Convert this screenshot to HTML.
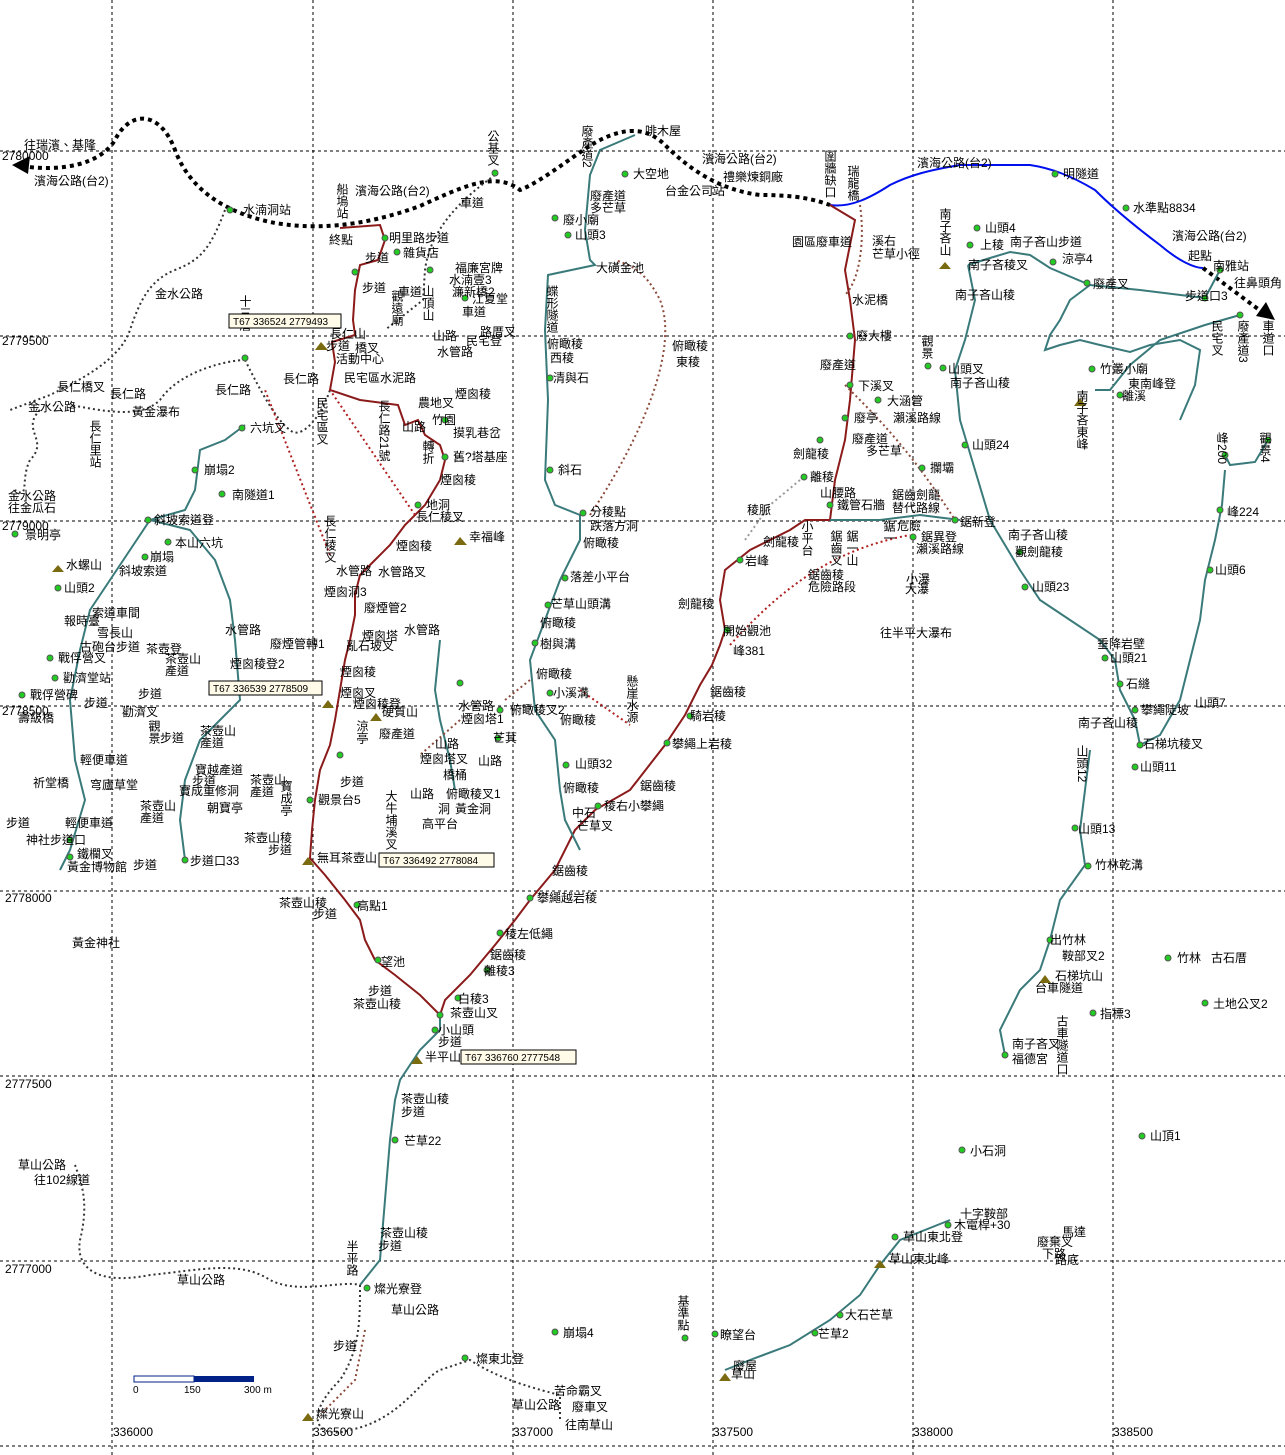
<!DOCTYPE html>
<html><head><meta charset="utf-8"><style>
html,body{margin:0;padding:0;background:#fff}
svg{display:block}
text{font-family:"Liberation Sans","Noto Sans CJK TC",sans-serif;font-size:12px;fill:#000}
.b{fill:#2233ee;font-size:11px}
.g{fill:#000;font-size:10px}
.v{writing-mode:vertical-rl}
</style></head><body>
<svg width="1285" height="1455" viewBox="0 0 1285 1455" xmlns="http://www.w3.org/2000/svg">
<g stroke="#000" stroke-width="1" stroke-dasharray="3,3" fill="none">
<line x1="112" y1="0" x2="112" y2="1455"/><line x1="313" y1="0" x2="313" y2="1455"/>
<line x1="513" y1="0" x2="513" y2="1455"/><line x1="713" y1="0" x2="713" y2="1455"/>
<line x1="913" y1="0" x2="913" y2="1455"/><line x1="1113" y1="0" x2="1113" y2="1455"/>
<line x1="0" y1="151" x2="1285" y2="151"/><line x1="0" y1="336" x2="1285" y2="336"/>
<line x1="0" y1="521" x2="1285" y2="521"/><line x1="0" y1="706" x2="1285" y2="706"/>
<line x1="0" y1="891" x2="1285" y2="891"/><line x1="0" y1="1076" x2="1285" y2="1076"/>
<line x1="0" y1="1261" x2="1285" y2="1261"/><line x1="0" y1="1446" x2="1285" y2="1446"/>
</g>
<g class="g">
<text x="2" y="160">2780000</text><text x="2" y="345">2779500</text><text x="2" y="530">2779000</text>
<text x="2" y="715">2778500</text><text x="5" y="902">2778000</text><text x="5" y="1088">2777500</text>
<text x="5" y="1273">2777000</text>
<text x="113" y="1436">336000</text><text x="313" y="1436">336500</text><text x="513" y="1436">337000</text>
<text x="713" y="1436">337500</text><text x="913" y="1436">338000</text><text x="1113" y="1436">338500</text>
</g>
<path d="M22,166 C60,172 100,165 115,140 C130,110 160,110 175,150 C190,190 225,212 270,222 C310,230 360,228 420,206 C460,188 495,170 520,190 C545,180 580,150 600,140 C630,125 650,130 665,145 C690,170 720,190 760,195 C800,195 815,200 830,205" fill="none" stroke="#000" stroke-width="4" stroke-dasharray="4,4"/>
<path d="M1203,268 L1262,312" fill="none" stroke="#000" stroke-width="4" stroke-dasharray="4,4"/>
<polygon points="12,165 30,156 28,174" fill="#000"/><polygon points="1275,320 1256,316 1266,302" fill="#000"/>
<path d="M830,205 C850,208 870,198 890,185 C910,175 930,170 960,165 L1030,165 C1050,168 1070,175 1095,190 C1115,210 1140,230 1160,245 C1180,262 1195,268 1203,268" fill="none" stroke="#0011ee" stroke-width="2"/>
<path d="M340,228 L380,225 L385,240 L378,260 L360,265 L355,290 L353,320 L355,335 L332,342 L335,362 L330,390 L360,400 L398,405 L405,425 L418,420 L425,435 L440,445 L445,460 L440,480 L425,505 L405,525 L390,545 L375,560 L360,575 L355,595 L355,615 L350,640 L345,660 L340,690 L335,720 L330,745 L320,770 L315,800 L312,830 L310,858 L325,875 L345,900 L360,920 L365,940 L375,960 L395,975 L420,995 L440,1015 L445,1000 L470,975 L495,945 L515,920 L530,900 L555,870 L575,830 L595,810 L630,790 L665,745 L685,715 L700,685 L712,665 L720,645 L725,630 L720,600 L725,570 L750,550 L790,530 L805,520 L830,520 L835,480 L845,440 L850,400 L855,340 L850,300 L845,270 L855,220 L830,205" fill="none" stroke="#8b1a1a" stroke-width="2"/>
<g fill="none" stroke="#3a7a7a" stroke-width="2">
<path d="M440,1015 L440,1030 L420,1050 L400,1080 L395,1100 L390,1140 L385,1200 L380,1260 L360,1285"/>
<path d="M635,135 L600,150 L590,175 L585,230 L590,260 L595,265 L548,275 L545,330 L548,400 L545,480 L555,505 L580,515 L580,540 L560,580 L545,620 L530,660 L535,710 L555,740 L560,790 L565,820 L575,840 L580,850"/>
<path d="M968,265 L975,300 L965,340 L955,370 L960,420 L975,470 L990,520 L1005,545 L1020,570 L1040,600 L1070,620 L1100,640 L1115,660 L1120,690 L1135,720 L1140,745"/>
<path d="M968,265 L990,258 L1010,252 L1030,255 L1050,268 L1090,285 L1140,290 L1205,298 L1220,270"/>
<path d="M1090,285 L1070,300 L1060,320 L1050,335 L1045,350 L1060,345 L1080,340 L1100,345 L1130,352 L1150,345 L1180,340 L1200,350 L1195,385 L1180,420"/>
<path d="M1240,315 L1205,325 L1160,340 L1130,365 L1110,390 L1095,390"/>
<path d="M1225,470 L1222,505 L1215,540 L1205,580 L1200,620 L1190,660 L1180,700 L1160,735 L1140,745"/>
<path d="M1225,455 L1230,465 L1255,462 L1268,440"/>
<path d="M1090,750 L1085,790 L1080,830 L1085,865 L1060,900 L1050,940 L1040,970 L1020,990 L1000,1030 L1005,1055"/>
<path d="M725,1370 L750,1360 L790,1345 L830,1320 L860,1295 L880,1265 L900,1240 L950,1220"/>
<path d="M830,520 L880,520 L920,515 L960,520"/>
<path d="M245,425 L225,440 L200,450 L195,490 L185,510 L150,520 L130,550 L110,580 L90,610 L80,650 L70,700 L75,760 L85,800 L70,850 L60,870"/>
<path d="M150,520 L190,530 L215,560 L230,600 L235,640 L240,700 L220,720 L200,740 L185,780 L180,820 L185,860"/>
<path d="M440,640 L435,690 L440,720 L450,760 L455,790"/>
</g>
<g fill="none" stroke="#333" stroke-width="2" stroke-dasharray="2,3">
<path d="M225,210 C210,250 200,260 175,270 C150,280 140,300 130,330 C120,360 80,380 50,395 L10,410"/>
<path d="M245,360 C230,360 180,370 160,400 C140,420 100,410 70,405"/>
<path d="M40,410 C20,430 50,440 30,460 C20,480 30,500 15,490"/>
<path d="M245,360 C255,380 275,420 290,430 C300,440 320,420 330,390"/>
<path d="M495,175 C460,200 430,230 425,270 L423,300 L385,330"/>
<path d="M75,1165 C80,1180 90,1200 80,1240 C75,1270 100,1285 150,1275 C200,1270 240,1260 270,1280 C300,1295 340,1280 360,1285"/>
<path d="M360,1285 C360,1320 360,1350 340,1380 C300,1420 320,1440 350,1430 C400,1420 420,1380 440,1370 L470,1360 C500,1380 540,1390 560,1395 L560,1420"/>
</g>
<g fill="none" stroke="#b02020" stroke-width="2" stroke-dasharray="2,3">
<path d="M415,515 L330,390"/><path d="M330,555 L265,390"/><path d="M580,690 L630,725"/><path d="M730,645 C780,590 830,550 910,535"/>
</g>
<g fill="none" stroke="#8b4a3a" stroke-width="2" stroke-dasharray="2,3">
<path d="M590,515 C640,440 680,350 660,300 C645,270 630,265 615,260"/>
<path d="M860,205 C865,240 860,280 845,295"/><path d="M845,385 C880,420 910,450 955,520"/>
<path d="M530,680 L505,700"/><path d="M460,720 L420,755"/><path d="M365,1330 L355,1380 L320,1415"/>
</g>
<g fill="none" stroke="#999" stroke-width="2" stroke-dasharray="2,3"><path d="M800,480 L770,505 L745,540"/></g>
<g fill="#2c2" stroke="#555" stroke-width="1">
<circle cx="230" cy="210" r="3"/><circle cx="495" cy="173" r="3"/><circle cx="625" cy="174" r="3"/><circle cx="555" cy="218" r="3"/><circle cx="568" cy="235" r="3"/><circle cx="385" cy="238" r="3"/><circle cx="397" cy="252" r="3"/><circle cx="355" cy="272" r="3"/><circle cx="430" cy="270" r="3"/><circle cx="465" cy="298" r="3"/><circle cx="245" cy="358" r="3"/><circle cx="242" cy="428" r="3"/><circle cx="195" cy="470" r="3"/><circle cx="222" cy="494" r="3"/><circle cx="148" cy="520" r="3"/><circle cx="168" cy="542" r="3"/><circle cx="15" cy="534" r="3"/><circle cx="145" cy="557" r="3"/><circle cx="58" cy="588" r="3"/><circle cx="445" cy="420" r="3"/><circle cx="445" cy="457" r="3"/><circle cx="418" cy="505" r="3"/><circle cx="550" cy="378" r="3"/><circle cx="550" cy="470" r="3"/><circle cx="583" cy="513" r="3"/><circle cx="565" cy="578" r="3"/><circle cx="548" cy="605" r="3"/><circle cx="535" cy="643" r="3"/><circle cx="550" cy="693" r="3"/><circle cx="566" cy="765" r="3"/><circle cx="598" cy="806" r="3"/><circle cx="530" cy="898" r="3"/><circle cx="500" cy="933" r="3"/><circle cx="487" cy="970" r="3"/><circle cx="458" cy="998" r="3"/><circle cx="440" cy="1015" r="3"/><circle cx="435" cy="1030" r="3"/><circle cx="395" cy="1140" r="3"/><circle cx="367" cy="1288" r="3"/><circle cx="555" cy="1332" r="3"/><circle cx="685" cy="1338" r="3"/><circle cx="715" cy="1334" r="3"/><circle cx="815" cy="1333" r="3"/><circle cx="840" cy="1315" r="3"/><circle cx="895" cy="1237" r="3"/><circle cx="948" cy="1225" r="3"/><circle cx="962" cy="1150" r="3"/><circle cx="1142" cy="1136" r="3"/><circle cx="1168" cy="958" r="3"/><circle cx="1205" cy="1003" r="3"/><circle cx="1093" cy="1013" r="3"/><circle cx="850" cy="336" r="3"/><circle cx="850" cy="385" r="3"/><circle cx="878" cy="400" r="3"/><circle cx="820" cy="440" r="3"/><circle cx="845" cy="418" r="3"/><circle cx="922" cy="468" r="3"/><circle cx="804" cy="477" r="3"/><circle cx="830" cy="505" r="3"/><circle cx="955" cy="520" r="3"/><circle cx="913" cy="537" r="3"/><circle cx="740" cy="560" r="3"/><circle cx="727" cy="630" r="3"/><circle cx="690" cy="716" r="3"/><circle cx="667" cy="743" r="3"/><circle cx="977" cy="228" r="3"/><circle cx="970" cy="245" r="3"/><circle cx="1053" cy="262" r="3"/><circle cx="1087" cy="283" r="3"/><circle cx="1126" cy="208" r="3"/><circle cx="1055" cy="174" r="3"/><circle cx="928" cy="366" r="3"/><circle cx="943" cy="368" r="3"/><circle cx="965" cy="445" r="3"/><circle cx="1092" cy="369" r="3"/><circle cx="1120" cy="395" r="3"/><circle cx="1225" cy="455" r="3"/><circle cx="1268" cy="440" r="3"/><circle cx="1220" cy="510" r="3"/><circle cx="1210" cy="570" r="3"/><circle cx="1025" cy="587" r="3"/><circle cx="1020" cy="552" r="3"/><circle cx="1105" cy="658" r="3"/><circle cx="1120" cy="684" r="3"/><circle cx="1135" cy="710" r="3"/><circle cx="1140" cy="745" r="3"/><circle cx="1135" cy="767" r="3"/><circle cx="1075" cy="828" r="3"/><circle cx="1088" cy="866" r="3"/><circle cx="1050" cy="940" r="3"/><circle cx="1005" cy="1055" r="3"/><circle cx="465" cy="1358" r="3"/><circle cx="357" cy="905" r="3"/><circle cx="378" cy="960" r="3"/><circle cx="310" cy="800" r="3"/><circle cx="340" cy="755" r="3"/><circle cx="460" cy="683" r="3"/><circle cx="498" cy="738" r="3"/><circle cx="500" cy="710" r="3"/><circle cx="70" cy="840" r="3"/><circle cx="185" cy="860" r="3"/><circle cx="70" cy="857" r="3"/><circle cx="50" cy="658" r="3"/><circle cx="22" cy="695" r="3"/><circle cx="55" cy="678" r="3"/><circle cx="1240" cy="315" r="3"/><circle cx="1220" cy="270" r="3"/><circle cx="1205" cy="298" r="3"/>
</g>
<g fill="#7a6a10"><polygon points="321,342 315,350 328,350"/><polygon points="460,537 454,545 467,545"/><polygon points="58,565 52,572 64,572"/><polygon points="328,700 322,708 334,708"/><polygon points="376,713 370,721 382,721"/><polygon points="308,857 302,865 314,865"/><polygon points="417,1056 411,1064 423,1064"/><polygon points="308,1413 302,1421 314,1421"/><polygon points="880,1260 874,1268 886,1268"/><polygon points="725,1373 719,1381 731,1381"/><polygon points="1045,975 1039,983 1051,983"/><polygon points="945,262 939,269 951,269"/><polygon points="1080,398 1074,406 1086,406"/></g>
<g>
<text x="243" y="214">水湳洞站</text><text x="389" y="242">明里路步道</text><text x="403" y="257">雜貨店</text><text x="455" y="272">福廉宮牌</text><text x="449" y="284">水湳壹3</text><text x="452" y="296">濂新橋2</text><text x="472" y="303">江夏堂</text><text x="480" y="336">路厝叉</text><text x="466" y="345">民宅登</text><text x="437" y="356">水管路</text><text x="330" y="338">長仁山</text><text x="355" y="352">橋叉</text><text x="336" y="363">活動中心</text><text x="418" y="407">農地叉</text><text x="432" y="424">竹園</text><text x="453" y="437">摸乳巷岔</text><text x="453" y="461">舊?塔基座</text><text x="426" y="509">地洞</text><text x="416" y="521">長仁稜叉</text><text x="469" y="541">幸福峰</text><text x="378" y="576">水管路叉</text><text x="324" y="596">煙囪洞3</text><text x="364" y="612">廢煙管2</text><text x="270" y="648">廢煙管轉1</text><text x="362" y="640">煙囪塔</text><text x="346" y="650">亂石坡叉</text><text x="230" y="668">煙囪稜登2</text><text x="340" y="697">煙囪叉</text><text x="353" y="708">煙囪稜登</text><text x="382" y="716">硬質山</text><text x="461" y="723">煙囪塔1</text><text x="379" y="738">廢產道</text><text x="420" y="763">煙囪塔叉</text><text x="443" y="779">橋桶</text><text x="446" y="798">俯瞰稜叉1</text><text x="438" y="813">洞</text><text x="455" y="813">黃金洞</text><text x="422" y="828">高平台</text><text x="318" y="804">觀景台5</text><text x="317" y="862">無耳茶壺山</text><text x="357" y="910">高點1</text><text x="381" y="966">望池</text><text x="458" y="1003">白稜3</text><text x="450" y="1017">茶壺山叉</text><text x="438" y="1034">小山頭</text><text x="425" y="1061">半平山</text><text x="404" y="1145">芒草22</text><text x="374" y="1293">燦光寮登</text><text x="316" y="1418">燦光寮山</text><text x="476" y="1363">燦東北登</text><text x="554" y="1395">苦命霸叉</text><text x="572" y="1411">廢車叉</text><text x="563" y="1337">崩塌4</text><text x="720" y="1339">瞭望台</text><text x="818" y="1338">芒草2</text><text x="845" y="1319">大石芒草</text><text x="733" y="1370">廢屋</text><text x="731" y="1378">草山</text><text x="889" y="1263">草山東北峰</text><text x="903" y="1241">草山東北登</text><text x="954" y="1229">木電桿+30</text><text x="960" y="1218">十字鞍部</text><text x="970" y="1155">小石洞</text><text x="1037" y="1246">廢棄叉</text><text x="1042" y="1258">下路</text><text x="1055" y="1264">路底</text><text x="1062" y="1236">馬達</text><text x="1150" y="1140">山頂1</text><text x="1177" y="962">竹林</text><text x="1211" y="962">古石厝</text><text x="1213" y="1008">土地公叉2</text><text x="1100" y="1018">指標3</text><text x="1050" y="944">出竹林</text><text x="1062" y="960">鞍部叉2</text><text x="1055" y="980">石梯坑山</text><text x="1035" y="992">台車隧道</text><text x="1012" y="1048">南子吝叉</text><text x="1012" y="1063">福德宮</text><text x="1095" y="869">竹林乾溝</text><text x="1078" y="833">山頭13</text><text x="1140" y="771">山頭11</text><text x="1143" y="748">石梯坑稜叉</text><text x="1141" y="714">攀繩陡坡</text><text x="1195" y="707">山頭7</text><text x="1126" y="688">石縫</text><text x="1110" y="662">山頭21</text><text x="1097" y="648">垂降岩壁</text><text x="1215" y="574">山頭6</text><text x="1227" y="516">峰224</text><text x="1032" y="591">山頭23</text><text x="1015" y="556">觀劍龍稜</text><text x="960" y="526">鋸新登</text><text x="921" y="541">鋸異登</text><text x="906" y="583">小瀑</text><text x="905" y="593">大瀑</text><text x="930" y="472">攔壩</text><text x="972" y="449">山頭24</text><text x="948" y="373">山頭叉</text><text x="887" y="405">大涵管</text><text x="858" y="390">下溪叉</text><text x="856" y="340">廢大樓</text><text x="854" y="422">廢亭</text><text x="810" y="481">離稜</text><text x="837" y="509">鐵管石牆</text><text x="745" y="565">岩峰</text><text x="723" y="635">開始觀池</text><text x="733" y="655">峰381</text><text x="690" y="720">騎岩稜</text><text x="672" y="748">攀繩上岩稜</text><text x="604" y="810">稜右小攀繩</text><text x="575" y="768">山頭32</text><text x="572" y="817">中石</text><text x="577" y="830">芒草叉</text><text x="537" y="902">攀繩越岩稜</text><text x="505" y="938">稜左低繩</text><text x="484" y="975">離稜3</text><text x="493" y="742">芒萁</text><text x="510" y="714">俯瞰稜叉2</text><text x="553" y="697">小溪溝</text><text x="536" y="678">俯瞰稜</text><text x="540" y="648">樹與溝</text><text x="551" y="608">芒草山頭溝</text><text x="570" y="581">落差小平台</text><text x="590" y="516">分稜點</text><text x="590" y="530">跌落方洞</text><text x="558" y="474">斜石</text><text x="553" y="382">清與石</text><text x="596" y="272">大磺金池</text><text x="563" y="224">廢小廟</text><text x="575" y="239">山頭3</text><text x="633" y="178">大空地</text><text x="645" y="135">啡木屋</text><text x="723" y="181">禮樂煉銅廠</text><text x="1063" y="178">明隧道</text><text x="1133" y="212">水準點8834</text><text x="1213" y="270">南雅站</text><text x="1185" y="300">步道口3</text><text x="985" y="232">山頭4</text><text x="980" y="249">上稜</text><text x="968" y="269">南子吝稜叉</text><text x="1062" y="263">涼亭4</text><text x="1093" y="288">廢產叉</text><text x="1100" y="373">竹叢小廟</text><text x="1128" y="388">東南峰登</text><text x="1122" y="400">離溪</text><text x="250" y="432">六坑叉</text><text x="204" y="474">崩塌2</text><text x="232" y="499">南隧道1</text><text x="154" y="524">斜坡索道登</text><text x="25" y="539">景明亭</text><text x="175" y="547">本山六坑</text><text x="150" y="561">崩塌</text><text x="119" y="575">斜坡索道</text><text x="66" y="569">水螺山</text><text x="64" y="592">山頭2</text><text x="92" y="617">索道車間</text><text x="64" y="625">報時臺</text><text x="97" y="637">雪長山</text><text x="80" y="651">古砲台步道</text><text x="146" y="653">茶壺登</text><text x="58" y="662">戰俘營叉</text><text x="63" y="682">勸濟堂站</text><text x="30" y="699">戰俘營碑</text><text x="122" y="716">勸濟叉</text><text x="18" y="722">壽級橋</text><text x="195" y="774">寶越產道</text><text x="179" y="795">寶成重修洞</text><text x="207" y="812">朝寶亭</text><text x="33" y="787">祈堂橋</text><text x="90" y="789">穹廬草堂</text><text x="26" y="844">神社步道口</text><text x="77" y="858">鐵欄叉</text><text x="67" y="871">黃金博物館</text><text x="190" y="865">步道口33</text><text x="72" y="947">黃金神社</text><text x="57" y="391">長仁橋叉</text><text x="132" y="416">黃金瀑布</text>
</g>
<g class="v">
<text x="493" y="130">公基叉</text><text x="342" y="183">船塢站</text><text x="245" y="295">十三層</text><text x="830" y="150">圍牆缺口</text><text x="853" y="165">瑞龍橋</text><text x="945" y="208">南子吝山</text><text x="95" y="420">長仁里站</text><text x="322" y="397">民宅區叉</text><text x="384" y="400">長仁路21號</text><text x="552" y="285">蝶形隧道</text><text x="428" y="285">山頂山</text><text x="397" y="290">觀遠廟</text><text x="428" y="440">轉折</text><text x="587" y="125">廢產道2</text><text x="927" y="335">觀景</text><text x="1082" y="390">南子吝東峰</text><text x="1217" y="320">民宅叉</text><text x="1243" y="320">廢產道3</text><text x="1268" y="320">車道口</text><text x="1222" y="432">峰200</text><text x="1265" y="432">觀景4</text><text x="807" y="520">小平台</text><text x="836" y="530">鋸齒叉</text><text x="852" y="530">鋸一山</text><text x="889" y="520">鋸一</text><text x="632" y="675">懸崖水源</text><text x="330" y="515">長仁稜叉</text><text x="154" y="720">觀景</text><text x="286" y="780">寶成亭</text><text x="362" y="720">涼亭</text><text x="391" y="790">大牛埔溪叉</text><text x="1082" y="745">山頭12</text><text x="1062" y="1015">古車隧道口</text><text x="352" y="1240">半平路</text><text x="683" y="1295">基準點</text>
</g>
<g class="b">
<text x="24" y="149">往瑞濱、基隆</text><text x="34" y="185">濱海公路(台2)</text><text x="355" y="195">濱海公路(台2)</text><text x="460" y="207">車道</text><text x="329" y="244">終點</text><text x="365" y="262">步道</text><text x="362" y="292">步道</text><text x="398" y="296">車道</text><text x="462" y="316">車道</text><text x="155" y="298">金水公路</text><text x="433" y="340">山路</text><text x="326" y="350">步道</text><text x="283" y="383">長仁路</text><text x="344" y="382">民宅區水泥路</text><text x="215" y="394">長仁路</text><text x="110" y="398">長仁路</text><text x="28" y="411">金水公路</text><text x="455" y="398">煙囪稜</text><text x="402" y="431">山路</text><text x="440" y="484">煙囪稜</text><text x="8" y="500">金水公路</text><text x="8" y="512">往金瓜石</text><text x="396" y="550">煙囪稜</text><text x="336" y="575">水管路</text><text x="404" y="634">水管路</text><text x="225" y="634">水管路</text><text x="340" y="676">煙囪稜</text><text x="165" y="663">茶壺山</text><text x="165" y="675">產道</text><text x="200" y="735">茶壺山</text><text x="200" y="747">產道</text><text x="138" y="698">步道</text><text x="84" y="707">步道</text><text x="160" y="742">步道</text><text x="80" y="764">輕便車道</text><text x="192" y="785">步道</text><text x="250" y="784">茶壺山</text><text x="250" y="796">產道</text><text x="140" y="810">茶壺山</text><text x="140" y="822">產道</text><text x="6" y="827">步道</text><text x="65" y="827">輕便車道</text><text x="133" y="869">步道</text><text x="244" y="842">茶壺山稜</text><text x="268" y="854">步道</text><text x="340" y="786">步道</text><text x="410" y="798">山路</text><text x="435" y="748">山路</text><text x="478" y="765">山路</text><text x="458" y="710">水管路</text><text x="279" y="907">茶壺山稜</text><text x="313" y="918">步道</text><text x="368" y="995">步道</text><text x="353" y="1008">茶壺山稜</text><text x="438" y="1046">步道</text><text x="401" y="1103">茶壺山稜</text><text x="401" y="1116">步道</text><text x="380" y="1237">茶壺山稜</text><text x="378" y="1250">步道</text><text x="391" y="1314">草山公路</text><text x="333" y="1350">步道</text><text x="177" y="1284">草山公路</text><text x="18" y="1169">草山公路</text><text x="34" y="1184">往102線道</text><text x="512" y="1409">草山公路</text><text x="565" y="1429">往南草山</text><text x="590" y="200">廢產道</text><text x="590" y="212">多芒草</text><text x="665" y="195">台金公司站</text><text x="702" y="163">濱海公路(台2)</text><text x="917" y="167">濱海公路(台2)</text><text x="1172" y="240">濱海公路(台2)</text><text x="1188" y="260">起點</text><text x="1234" y="287">往鼻頭角</text><text x="547" y="348">俯瞰稜</text><text x="550" y="362">西稜</text><text x="672" y="350">俯瞰稜</text><text x="676" y="366">東稜</text><text x="792" y="246">園區廢車道</text><text x="872" y="245">溪右</text><text x="872" y="258">芒草小徑</text><text x="852" y="304">水泥橋</text><text x="1010" y="246">南子吝山步道</text><text x="955" y="299">南子吝山稜</text><text x="950" y="387">南子吝山稜</text><text x="820" y="369">廢產道</text><text x="893" y="422">瀨溪路線</text><text x="852" y="443">廢產道</text><text x="866" y="455">多芒草</text><text x="793" y="458">劍龍稜</text><text x="820" y="497">山腰路</text><text x="892" y="499">鋸齒劍龍</text><text x="892" y="512">替代路線</text><text x="747" y="514">稜脈</text><text x="897" y="530">危險</text><text x="916" y="553">瀨溪路線</text><text x="763" y="546">劍龍稜</text><text x="808" y="579">鋸齒稜</text><text x="808" y="591">危險路段</text><text x="880" y="637">往半平大瀑布</text><text x="678" y="608">劍龍稜</text><text x="710" y="696">鋸齒稜</text><text x="583" y="547">俯瞰稜</text><text x="540" y="627">俯瞰稜</text><text x="560" y="724">俯瞰稜</text><text x="563" y="792">俯瞰稜</text><text x="640" y="790">鋸齒稜</text><text x="552" y="875">鋸齒稜</text><text x="490" y="959">鋸齒稜</text><text x="1008" y="539">南子吝山稜</text><text x="1078" y="727">南子吝山稜</text>
</g>
<g font-size="10">
<rect x="229" y="314" width="112" height="14" fill="#fffbe8" stroke="#000"/><text x="233" y="325" class="g">T67 336524 2779493</text>
<rect x="209" y="681" width="113" height="14" fill="#fffbe8" stroke="#000"/><text x="213" y="692" class="g">T67 336539 2778509</text>
<rect x="379" y="853" width="115" height="14" fill="#fffbe8" stroke="#000"/><text x="383" y="864" class="g">T67 336492 2778084</text>
<rect x="461" y="1050" width="115" height="14" fill="#fffbe8" stroke="#000"/><text x="465" y="1061" class="g">T67 336760 2777548</text>
</g>
<rect x="134" y="1376" width="60" height="6" fill="#fff" stroke="#002288"/><rect x="194" y="1376" width="60" height="6" fill="#002288"/>
<text x="133" y="1393" class="g">0</text><text x="184" y="1393" class="g">150</text><text x="244" y="1393" class="g">300 m</text>
</svg>
</body></html>
